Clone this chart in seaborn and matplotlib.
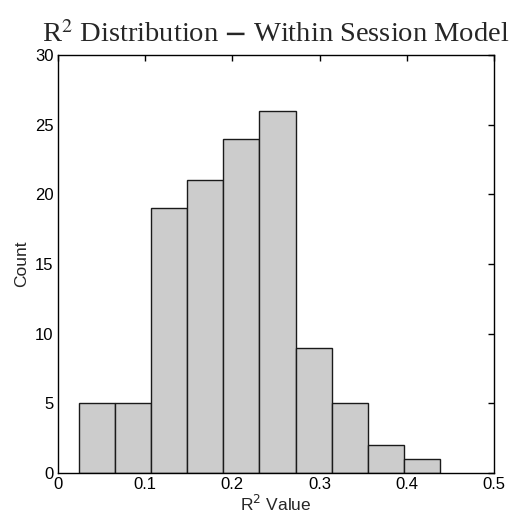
import numpy as np
import pandas as pd
import seaborn as sns
import matplotlib.pyplot as plt

# histogram data (MATLAB-style 10 bins)
bin_lo = 0.0245
bin_hi = 0.4377
counts = [5, 5, 19, 21, 24, 26, 9, 5, 2, 1]

edges = np.linspace(bin_lo, bin_hi, len(counts) + 1)
df = pd.DataFrame({'r2': (edges[:-1] + edges[1:]) / 2, 'n': counts})

sns.set_style('white')
plt.rcParams['font.family'] = ['Liberation Sans', 'DejaVu Sans']

fig = plt.figure(figsize=(5.17, 5.18), dpi=100)
ax = fig.add_axes([0.112, 0.087, 0.8435, 0.807])

sns.histplot(data=df, x='r2', weights='n', bins=list(edges), color='#cccccc',
             edgecolor='#1a1a1a', linewidth=1.0, alpha=1.0, ax=ax)

ax.set_xlim(0, 0.5)
ax.set_ylim(0, 30)
ax.set_xticks([0, 0.1, 0.2, 0.3, 0.4, 0.5])
ax.set_xticklabels(['0', '0.1', '0.2', '0.3', '0.4', '0.5'])
ax.set_yticks([0, 5, 10, 15, 20, 25, 30])
ax.tick_params(direction='in', length=4, width=1, labelsize=12, colors='black',
               top=True, right=True, pad=3)
for s in ax.spines.values():
    s.set_color('black')
    s.set_linewidth(1.0)

ax.set_xlabel('R$^2$ Value', fontsize=12.5, labelpad=1, math_fontfamily='dejavusans')
ax.set_ylabel('Count', fontsize=12.5, labelpad=4)
ax.set_title('R$^{2}$ Distribution $\\mathbf{-}$ Within Session Model',
             family='Liberation Serif', fontsize=20.5, pad=9, math_fontfamily='stix')

fig.savefig('out.png', dpi=100)
